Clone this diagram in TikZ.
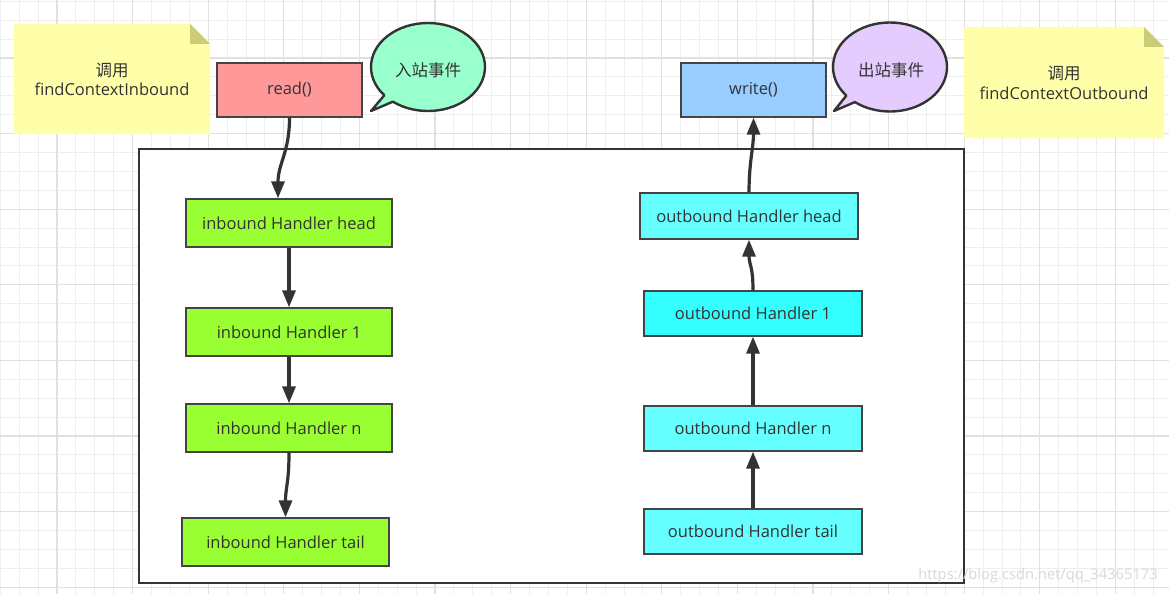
\documentclass[tikz,border=0pt]{standalone}
\usepackage{fontspec}
\setmainfont{Open Sans}
\newfontfamily\cjk{Noto Sans CJK SC}
\usetikzlibrary{arrows.meta}
\definecolor{txt}{HTML}{333333}
\definecolor{edge}{HTML}{444444}
\definecolor{gridminor}{HTML}{EEEEEE}
\definecolor{gridmajor}{HTML}{E0E0E0}
\definecolor{notefill}{HTML}{FFFFAA}
\definecolor{notefold}{HTML}{CCCC77}
\definecolor{readfill}{HTML}{FF9999}
\definecolor{writefill}{HTML}{99CCFF}
\definecolor{bubA}{HTML}{99FFCC}
\definecolor{bubB}{HTML}{E5CCFF}
\definecolor{infill}{HTML}{99FF33}
\definecolor{outfill}{HTML}{66FFFF}
\definecolor{outfillB}{HTML}{33FFFF}
\definecolor{wm}{HTML}{D8D8D8}
\tikzset{
  lbl/.style={font=\fontsize{16.5}{19}\selectfont, text=txt, inner sep=0pt},
  hbox/.style={draw=edge, line width=1.3pt, inner sep=0pt, font=\fontsize{16.5}{19}\selectfont, text=txt},
  conn/.style={draw=txt, line width=3.2pt, -{Triangle[length=17pt,width=13pt]}},
  bubline/.style={draw=txt, line width=2.4pt},
}
\begin{document}
\begin{tikzpicture}[x=1pt,y=-1pt]
\useasboundingbox (0,0) rectangle (1169,594);
\fill[white] (0,0) rectangle (1169,594);
% grid
\foreach \i in {-3,...,59} {
  \draw[gridminor, line width=1pt] ({57+\i*18.9},0) -- ({57+\i*18.9},594);
}
\foreach \i in {-3,...,29} {
  \draw[gridminor, line width=1pt] (0,{58+\i*18.9}) -- (1169,{58+\i*18.9});
}
\foreach \i in {0,...,14} {
  \draw[gridmajor, line width=1.1pt] ({57+\i*75.6},0) -- ({57+\i*75.6},594);
}
\foreach \i in {0,...,7} {
  \draw[gridmajor, line width=1.1pt] (0,{58+\i*75.6}) -- (1169,{58+\i*75.6});
}
% big container
\draw[draw=txt, fill=white, line width=1.3pt] (139,149) rectangle (964,583);
% notes
\fill[notefill] (14,24) -- (190,24) -- (210,44) -- (210,134) -- (14,134) -- cycle;
\fill[notefold] (190,24) -- (190,44) -- (210,44) -- cycle;
\node[lbl] (noteA1) at (112,70) {\cjk 调用};
\node[lbl] (noteA2) at (112,89) {findContextInbound};
\fill[notefill] (964,27) -- (1144,27) -- (1164,47) -- (1164,138) -- (964,138) -- cycle;
\fill[notefold] (1144,27) -- (1144,47) -- (1164,47) -- cycle;
\node[lbl] (noteB1) at (1064,73) {\cjk 调用};
\node[lbl] (noteB2) at (1064,93) {findContextOutbound};
% bubbles
\filldraw[bubline, fill=bubA, line join=round] (428,67) ++(140:57 and 44)
  arc[start angle=140, end angle=488, x radius=57, y radius=44] -- (371,111) -- cycle;
\node[lbl] (bubAtxt) at (428,70) {\cjk 入站事件};
\filldraw[bubline, fill=bubB, line join=round] (890,67) ++(140:57 and 44.5)
  arc[start angle=140, end angle=488, x radius=57, y radius=44.5] -- (834,111) -- cycle;
\node[lbl] (bubBtxt) at (891,70) {\cjk 出站事件};
% top boxes
\node[hbox, fill=readfill, minimum width=145pt, minimum height=54pt] (read) at (289.5,90) {read()};
\node[hbox, fill=writefill, minimum width=145pt, minimum height=54pt] (write) at (753.5,90) {write()};
% inbound handlers
\node[hbox, fill=infill, minimum width=206pt, minimum height=48pt] (ih) at (289,223) {inbound Handler head};
\node[hbox, fill=infill, minimum width=206pt, minimum height=48pt] (i1) at (289,332) {inbound Handler 1};
\node[hbox, fill=infill, minimum width=206pt, minimum height=48pt] (in) at (289,428) {inbound Handler n};
\node[hbox, fill=infill, minimum width=207pt, minimum height=48pt] (it) at (285.5,542) {inbound Handler tail};
% outbound handlers
\node[hbox, fill=outfill, minimum width=218pt, minimum height=46pt] (oh) at (749,216) {outbound Handler head};
\node[hbox, fill=outfillB, minimum width=218pt, minimum height=45pt] (o1) at (753,313.5) {outbound Handler 1};
\node[hbox, fill=outfill, minimum width=218pt, minimum height=45pt] (on) at (753,428.5) {outbound Handler n};
\node[hbox, fill=outfill, minimum width=218pt, minimum height=45pt] (ot) at (753,531.5) {outbound Handler tail};
% connectors
\draw[conn] (read.south) .. controls +(0,35) and +(0,-35) .. ([xshift=-11pt]ih.north);
\draw[conn] (ih.south) -- (i1.north);
\draw[conn] (i1.south) -- (in.north);
\draw[conn] (in.south) .. controls +(0,30) and +(0,-30) .. (it.north);
\draw[conn] (ot.north) -- (on.south);
\draw[conn] (on.north) -- (o1.south);
\draw[conn] (o1.north) .. controls +(0,-25) and +(0,25) .. (oh.south);
\draw[conn] (oh.north) .. controls +(0,-30) and +(0,30) .. (write.south);
% watermark
\node[font=\fontsize{14.7}{17}\selectfont, text=wm, inner sep=0pt] (wmark) at (1038,576) {https://blog.csdn.net/qq\_34365173};
\end{tikzpicture}
\end{document}
